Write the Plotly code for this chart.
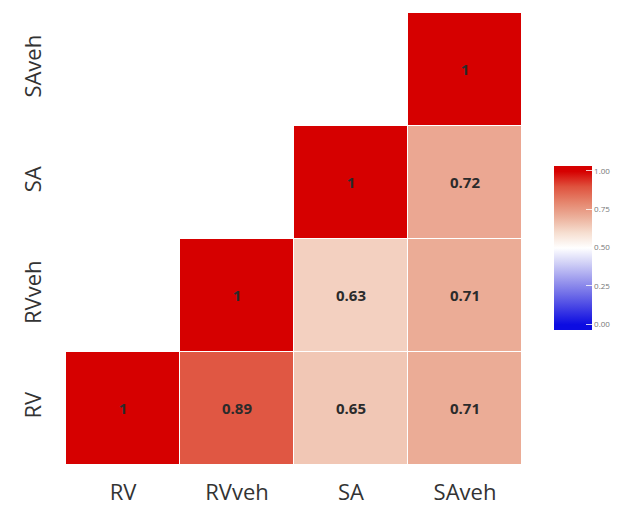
import numpy as np
import plotly.graph_objects as go

# Variables and pairwise correlations (upper triangle only)
variables = ["RV", "RVveh", "SA", "SAveh"]
row_rv = [1.00, 0.89, 0.65, 0.71]
row_rvveh = [None, 1.00, 0.63, 0.71]
row_sa = [None, None, 1.00, 0.72]
row_saveh = [None, None, None, 1.00]
cbar_ticks = [0.0, 0.25, 0.5, 0.75, 1.0]
cbar_labels = ["0.00", "0.25", "0.50", "0.75", "1.00"]

rows = [row_rv, row_rvveh, row_sa, row_saveh]
z = [[np.nan if v is None else v for v in r] for r in rows]
labels = [["" if v is None else ("1" if v == 1 else f"{v:.2f}") for v in r] for r in rows]

# diverging palette anchors: blue (0) -> white (0.5) -> red (1)
palette = [
    (0.0, (12, 12, 226)),
    (0.1, (62, 60, 228)),
    (0.2, (112, 110, 232)),
    (0.3, (160, 158, 238)),
    (0.4, (208, 208, 246)),
    (0.5, (255, 255, 255)),
    (0.6, (246, 222, 208)),
    (0.7, (236, 176, 155)),
    (0.8, (229, 132, 108)),
    (0.9, (223, 82, 62)),
    (1.0, (214, 0, 0)),
]

# small padding so the colour bar runs slightly past 0 and 1
zmin, zmax = -0.035, 1.035
colorscale = [[0.0, "rgb(%d,%d,%d)" % palette[0][1]]]
for v, c in palette:
    colorscale.append([(v - zmin) / (zmax - zmin), "rgb(%d,%d,%d)" % c])
colorscale.append([1.0, "rgb(%d,%d,%d)" % palette[-1][1]])

fig = go.Figure(
    go.Heatmap(
        x=variables,
        y=variables,
        z=z,
        text=labels,
        texttemplate="%{text}",
        textfont=dict(family="Open Sans", size=15, color="#2b2b2b", weight="bold"),
        zmin=zmin,
        zmax=zmax,
        colorscale=colorscale,
        xgap=1,
        ygap=1,
        hoverongaps=False,
        colorbar=dict(
            x=1.0697,
            xanchor="left",
            xpad=0,
            y=0.481,
            yanchor="middle",
            len=184,
            lenmode="pixels",
            thickness=38,
            thicknessmode="pixels",
            outlinewidth=0,
            tickvals=cbar_ticks,
            ticktext=cbar_labels,
            ticks="inside",
            ticklen=6,
            tickcolor="rgba(255,255,255,0.8)",
            tickfont=dict(family="Open Sans", size=8, color="#777777"),
        ),
    )
)

fig.update_layout(
    width=629,
    height=518,
    margin=dict(l=66, r=104, t=13, b=50),
    paper_bgcolor="white",
    plot_bgcolor="white",
    font=dict(family="Open Sans"),
)
fig.update_xaxes(
    showgrid=False, zeroline=False, showline=False,
    ticks="outside", ticklen=8, tickcolor="rgba(0,0,0,0)",
    tickfont=dict(size=22, color="#333333"),
)
fig.update_yaxes(
    showgrid=False, zeroline=False, showline=False,
    ticks="outside", ticklen=15, tickcolor="rgba(0,0,0,0)",
    tickangle=-90,
    tickfont=dict(size=22, color="#333333"),
)

fig.write_html("out.html")
